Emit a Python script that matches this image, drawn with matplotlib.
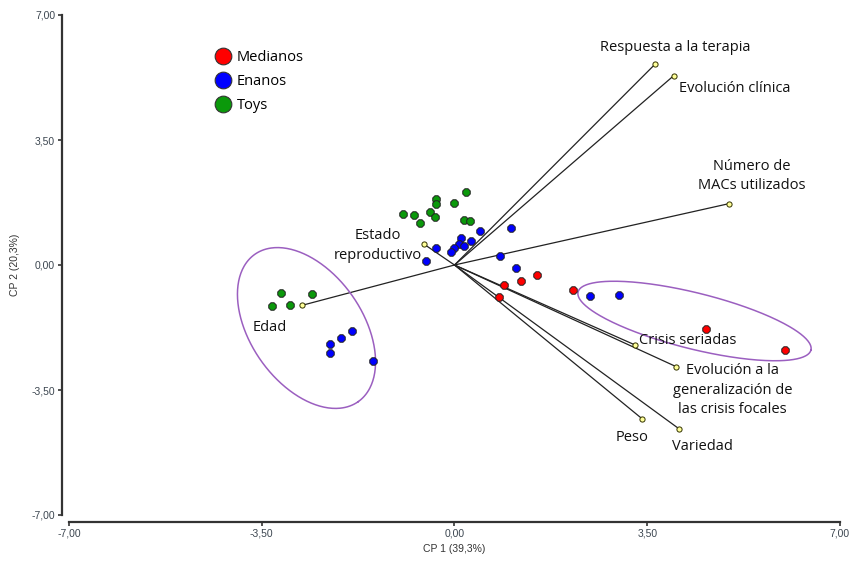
import numpy as np
import matplotlib
matplotlib.use("Agg")
import matplotlib.pyplot as plt
from matplotlib.lines import Line2D

# ---------------- data ----------------
groups = ["Medianos", "Enanos", "Toys"]
group_colors = ["#ff0000", "#0000ff", "#0b990b"]

medianos_x = [1.49, 1.20, 0.89, 0.80, 2.15, 4.57, 6.00]
medianos_y = [-0.29, -0.45, -0.57, -0.89, -0.70, -1.79, -2.38]

enanos_x = [1.02, 0.47, 0.12, 0.30, 0.08, 0.17, 0.00, -0.07, -0.34, -0.51, 0.83, 1.11,
            -1.87, -2.07, -2.26, -2.26, -1.48, 2.46, 2.98]
enanos_y = [1.03, 0.94, 0.75, 0.67, 0.59, 0.52, 0.49, 0.36, 0.48, 0.12, 0.25, -0.08,
            -1.84, -2.03, -2.20, -2.45, -2.70, -0.86, -0.83]

toys_x = [0.20, -0.34, -0.33, 0.00, -0.93, -0.74, -0.45, -0.36, -0.63, 0.17, 0.29,
          -3.15, -3.32, -2.99, -2.58]
toys_y = [2.05, 1.84, 1.71, 1.75, 1.43, 1.40, 1.48, 1.35, 1.17, 1.26, 1.24,
          -0.77, -1.16, -1.13, -0.81]

vector_names = ["Respuesta a la terapia", "Evolución clínica", "Número de\nMACs utilizados",
                "Estado\nreproductivo", "Edad", "Crisis seriadas",
                "Evolución a la\ngeneralización de\nlas crisis focales", "Peso", "Variedad"]
vector_x = [3.64, 3.98, 4.99, -0.56, -2.77, 3.28, 4.03, 3.41, 4.08]
vector_y = [5.62, 5.30, 1.72, 0.59, -1.13, -2.24, -2.85, -4.31, -4.59]

axis_ticks = [-7.0, -3.5, 0.0, 3.5, 7.0]
tick_labels = ["-7,00", "-3,50", "0,00", "3,50", "7,00"]
xlabel = "CP 1 (39,3%)"
ylabel = "CP 2 (20,3%)"

# ---------------- layout / style ----------------
W, H = 854, 561
fig = plt.figure(figsize=(W / 100, H / 100), dpi=100)
ax_l, ax_r, ax_t, ax_b = 69, 840, 15, 515
ax = fig.add_axes([ax_l / W, 1 - ax_b / H, (ax_r - ax_l) / W, (ax_b - ax_t) / H])
ax.set_xlim(-7, 7)
ax.set_ylim(-7, 7)

px_per_x = (ax_r - ax_l) / 14.0
px_per_y = (ax_b - ax_t) / 14.0

label_font = "Open Sans"
tick_color = "#3c4650"

for s in ["top", "right"]:
    ax.spines[s].set_visible(False)
for s in ["left", "bottom"]:
    ax.spines[s].set_color("#333333")
    ax.spines[s].set_linewidth(1.6)
    ax.spines[s].set_position(("outward", 5))
ax.set_xticks(axis_ticks)
ax.set_xticklabels(tick_labels)
ax.set_yticks(axis_ticks)
ax.set_yticklabels(tick_labels)
ax.tick_params(axis="both", labelsize=7.5, colors="#333333", labelcolor=tick_color,
               length=3, width=1.2, direction="out", pad=2)
for t in ax.get_xticklabels() + ax.get_yticklabels():
    t.set_fontfamily("Liberation Sans")
ax.set_xlabel(xlabel, fontsize=7.5, family="Liberation Sans", color="#333333", labelpad=4)
ax.set_ylabel(ylabel, fontsize=7.5, family="Liberation Sans", color="#333333", labelpad=8)

# vectors
for vx, vy in zip(vector_x, vector_y):
    ax.plot([0, vx], [0, vy], color="#222222", lw=0.9, zorder=2)
ax.scatter(vector_x, vector_y, s=14, marker="o", facecolor="#ffff99", edgecolor="#333300",
           linewidth=0.7, zorder=4)

# points
series = [(medianos_x, medianos_y), (enanos_x, enanos_y), (toys_x, toys_y)]
for (xs, ys), c in zip(series, group_colors):
    ax.scatter(xs, ys, s=34, marker="8", facecolor=c, edgecolor="#222222", linewidth=0.7,
               zorder=5)

# ellipses (shape defined in screen pixels, drawn in data space)
def draw_ellipse(cx, cy, a_px, b_px, ang_deg):
    t = np.linspace(0, 2 * np.pi, 300)
    th = np.deg2rad(ang_deg)
    dx = a_px * np.cos(th) * np.cos(t) - b_px * np.sin(th) * np.sin(t)
    dy = a_px * np.sin(th) * np.cos(t) + b_px * np.cos(th) * np.sin(t)
    ax.plot(cx + dx / px_per_x, cy - dy / px_per_y, color="#9b5fc0", lw=1.1, zorder=3)

draw_ellipse((306 - 454) / px_per_x, (265 - 328) / px_per_y, 90, 56, 55)
draw_ellipse((694 - 454) / px_per_x, (265 - 321) / px_per_y, 120, 28, 14)

# vector labels
label_pos = [
    (4.0, 6.1, "center"),
    (4.08, 4.95, "left"),
    (5.4, 2.5, "center"),
    (-1.40, 0.55, "center"),
    (-3.35, -1.75, "center"),
    (3.35, -2.1, "left"),
    (5.05, -3.5, "center"),
    (3.22, -4.82, "center"),
    (4.5, -5.08, "center"),
]
for name, (lx, ly, ha) in zip(vector_names, label_pos):
    ax.text(lx, ly, name, ha=ha, va="center", fontsize=10.5, family=label_font,
            color="#111111", linespacing=1.4, zorder=6)

# legend
handles = [Line2D([0], [0], marker="o", linestyle="none", markersize=12,
                  markerfacecolor=c, markeredgecolor="#333333", markeredgewidth=0.8)
           for c in group_colors]
leg = ax.legend(handles, groups, loc="upper left", bbox_to_anchor=(0.175, 0.95),
                frameon=False, prop={"family": label_font, "size": 10.5},
                handletextpad=0.35, labelspacing=0.62, borderpad=0.2, handlelength=1.2)

fig.savefig("out.png", dpi=100)
